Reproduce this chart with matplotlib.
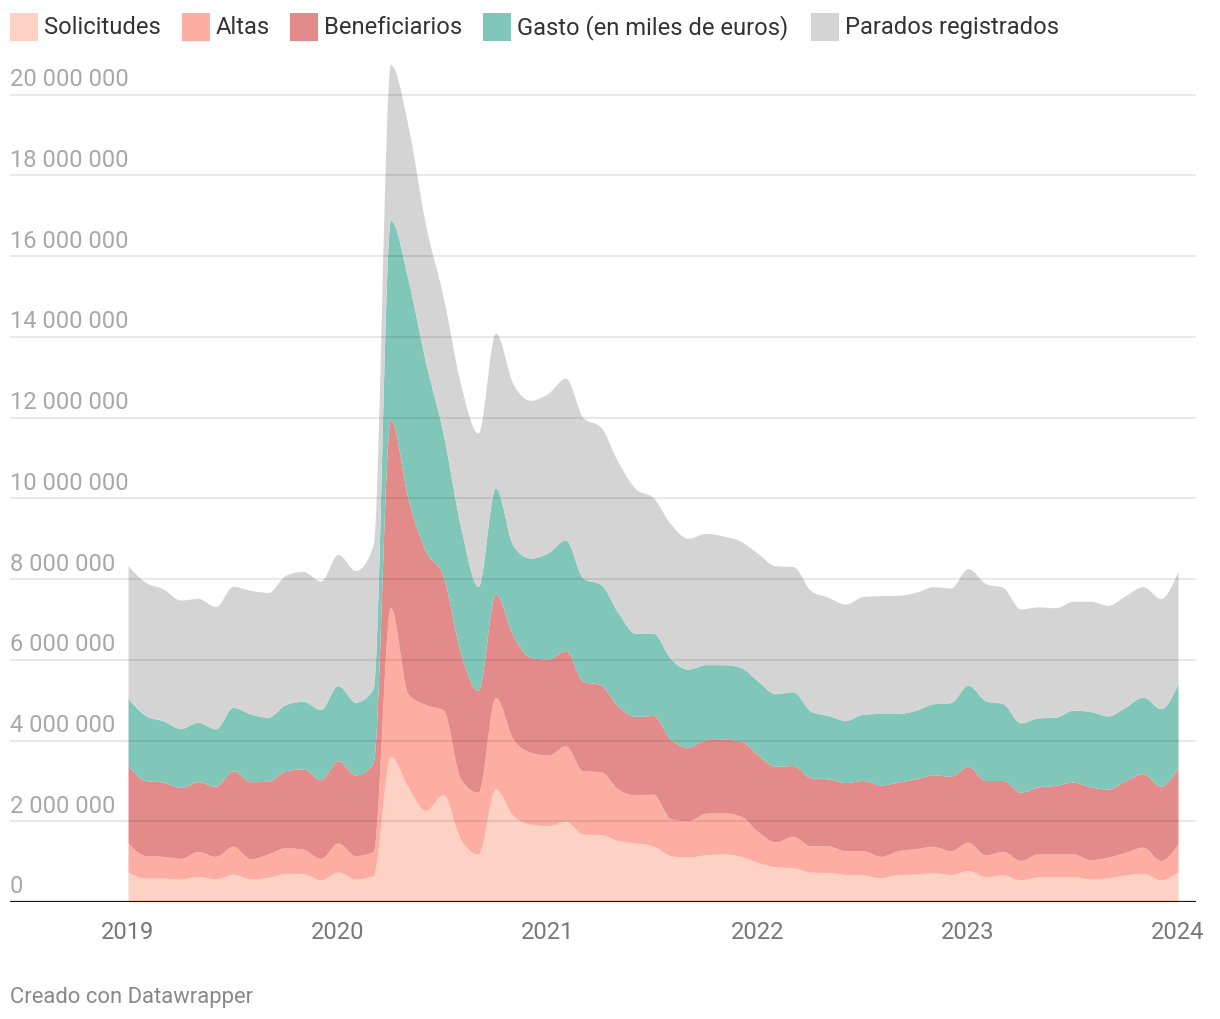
import numpy as np
import matplotlib
matplotlib.use("Agg")
import matplotlib.pyplot as plt
from matplotlib.patches import Rectangle

plt.rcParams["font.family"] = ["Roboto", "DejaVu Sans"]

# ---------------- data (thousands), monthly Jan 2019 .. Jan 2024 ----------------
year_labels = ["2019", "2020", "2021", "2022", "2023", "2024"]
series_names = ["Solicitudes", "Altas", "Beneficiarios", "Gasto (en miles de euros)", "Parados registrados"]

solicitudes = [740, 590, 590, 570, 630, 570, 690, 570, 610, 710, 700, 550, 740, 570, 660,
               3600, 2850, 2270, 2650, 1560, 1190, 2800, 2140, 1930, 1890, 2000, 1680, 1670, 1520, 1460,
               1390, 1150, 1110, 1170, 1190, 1130, 980, 870, 850, 740, 730, 680, 670, 600, 680,
               690, 720, 680, 780, 630, 670, 550, 620, 630, 630, 570, 600, 670, 710, 550, 750]
altas = [720, 560, 540, 510, 620, 560, 690, 500, 580, 630, 610, 530, 720, 580, 590,
         3700, 2310, 2620, 2110, 1500, 1530, 2270, 1900, 1780, 1750, 1870, 1570, 1560, 1280, 1190,
         1280, 920, 900, 1030, 1020, 1000, 760, 620, 780, 650, 660, 590, 600, 530, 590,
         630, 660, 590, 700, 540, 580, 480, 570, 560, 560, 480, 510, 560, 650, 480, 690]
beneficiarios = [1920, 1860, 1840, 1760, 1730, 1740, 1870, 1910, 1800, 1910, 1990, 1950, 2040, 2000, 2180,
                 4660, 4830, 3810, 3320, 3120, 2520, 2560, 2560, 2350, 2380, 2360, 2220, 2150, 2050, 1950,
                 1950, 1960, 1830, 1820, 1820, 1860, 1900, 1870, 1750, 1690, 1660, 1690, 1740, 1770, 1700,
                 1730, 1770, 1850, 1880, 1840, 1760, 1690, 1660, 1700, 1780, 1800, 1690, 1780, 1820, 1840, 1900]
gasto = [1670, 1610, 1520, 1460, 1470, 1420, 1570, 1680, 1590, 1640, 1670, 1740, 1860, 1800, 1840,
         4930, 5430, 4680, 3540, 3130, 2580, 2630, 2230, 2460, 2630, 2740, 2550, 2490, 2320, 2060,
         2040, 2000, 1930, 1860, 1850, 1820, 1830, 1800, 1830, 1650, 1570, 1540, 1640, 1770, 1700,
         1700, 1760, 1820, 2010, 1980, 1900, 1720, 1710, 1690, 1780, 1870, 1810, 1820, 1900, 1920, 2070]
parados = [3280, 3300, 3270, 3180, 3070, 3030, 3000, 3060, 3090, 3200, 3220, 3180, 3250, 3260, 3560,
           3860, 3810, 3400, 3390, 3530, 3800, 3830, 4010, 3910, 3950, 4010, 3980, 3900, 3730, 3580,
           3360, 3340, 3240, 3250, 3190, 3130, 3160, 3170, 3100, 2990, 2930, 2880, 2920, 2920, 2930,
           2920, 2900, 2840, 2890, 2900, 2880, 2820, 2750, 2710, 2700, 2730, 2740, 2760, 2730, 2730, 2790]

colors = ["#fdd2c5", "#fdada2", "#e28b8a", "#80c6b9", "#d4d4d4"]
y_ticks = [0, 2_000_000, 4_000_000, 6_000_000, 8_000_000, 10_000_000,
           12_000_000, 14_000_000, 16_000_000, 18_000_000, 20_000_000]


# ---------------- monotone-x interpolation (as d3.curveMonotoneX) ----------------
def monotone_slopes(x, y):
    n = len(x)
    t = np.zeros(n)
    h = np.diff(x)
    s = np.diff(y) / h
    for i in range(1, n - 1):
        h0, h1, s0, s1 = h[i - 1], h[i], s[i - 1], s[i]
        p = (s0 * h1 + s1 * h0) / (h0 + h1)
        t[i] = (np.sign(s0) + np.sign(s1)) * min(abs(s0), abs(s1), 0.5 * abs(p))
    t[0] = (3 * s[0] - t[1]) / 2
    t[-1] = (3 * s[-1] - t[-2]) / 2
    return t


def monotone_curve(x, y, k=40):
    x = np.asarray(x, float)
    y = np.asarray(y, float)
    t = monotone_slopes(x, y)
    xs, ys = [], []
    for i in range(len(x) - 1):
        h = x[i + 1] - x[i]
        u = np.linspace(0, 1, k, endpoint=(i == len(x) - 2))
        h00 = 2 * u**3 - 3 * u**2 + 1
        h10 = u**3 - 2 * u**2 + u
        h01 = -2 * u**3 + 3 * u**2
        h11 = u**3 - u**2
        xs.append(x[i] + h * u)
        ys.append(h00 * y[i] + h10 * h * t[i] + h01 * y[i + 1] + h11 * h * t[i + 1])
    return np.concatenate(xs), np.concatenate(ys)


# ---------------- figure ----------------
W, H = 1220, 1020
fig = plt.figure(figsize=(W / 100, H / 100), dpi=100)
px_per_m = 40.365
ax_left, ax_right, ax_bottom, ax_top = 10, 1196, 903, 60
ax = fig.add_axes([ax_left / W, 1 - ax_bottom / H, (ax_right - ax_left) / W, (ax_bottom - ax_top) / H])

x_idx = np.arange(len(solicitudes))
month_px = 17.5
ax.set_xlim((ax_left - 128) / month_px, (ax_right - 128) / month_px)
ax.set_ylim(0, (ax_bottom - ax_top) / px_per_m * 1e6)

stack = np.vstack([solicitudes, altas, beneficiarios, gasto, parados]).astype(float) * 1000
cum = np.cumsum(stack, axis=0)
prev = None
for j in range(cum.shape[0]):
    xc, yc = monotone_curve(x_idx, cum[j])
    lower = np.zeros_like(yc) if prev is None else prev
    ax.fill_between(xc, lower, yc, color=colors[j], linewidth=0, zorder=1 + j * 0.01)
    prev = yc

# gridlines on top, slightly transparent
for v in y_ticks[1:]:
    ax.axhline(v, color="black", alpha=0.11, linewidth=1.1, zorder=5)
ax.axhline(0, color="#1a1a1a", linewidth=1.6, zorder=6)

# y labels above gridlines
for v in y_ticks:
    lab = f"{v:,}".replace(",", " ")
    ax.annotate(lab, xy=(0, v), xycoords=("axes fraction", "data"),
                xytext=(0, 9.5), textcoords="offset pixels",
                ha="left", va="baseline", fontsize=17.1, color="#a8a8a8", zorder=7)

ax.set_xticks(np.arange(0, len(solicitudes), 12))
ax.set_xticklabels(year_labels)
ax.tick_params(axis="x", length=0, pad=13, labelsize=17.1, labelcolor="#777777")
ax.set_yticks([])
for sp in ax.spines.values():
    sp.set_visible(False)

# legend
sq_x = [10, 182, 290, 483, 811]
for xs_, name, c in zip(sq_x, series_names, colors):
    fig.patches.append(Rectangle((xs_ / W, 1 - 41.5 / H), 27.5 / W, 27.5 / H,
                                 transform=fig.transFigure, facecolor=c, edgecolor="none"))
    fig.text((xs_ + 34) / W, 1 - 34 / H, name, ha="left", va="baseline",
             fontsize=17.1, color="#333333")

fig.text(10 / W, 1 - 1003 / H, "Creado con Datawrapper", ha="left", va="baseline",
         fontsize=15.8, color="#888888")

fig.savefig("out.png", dpi=100, facecolor="white")
